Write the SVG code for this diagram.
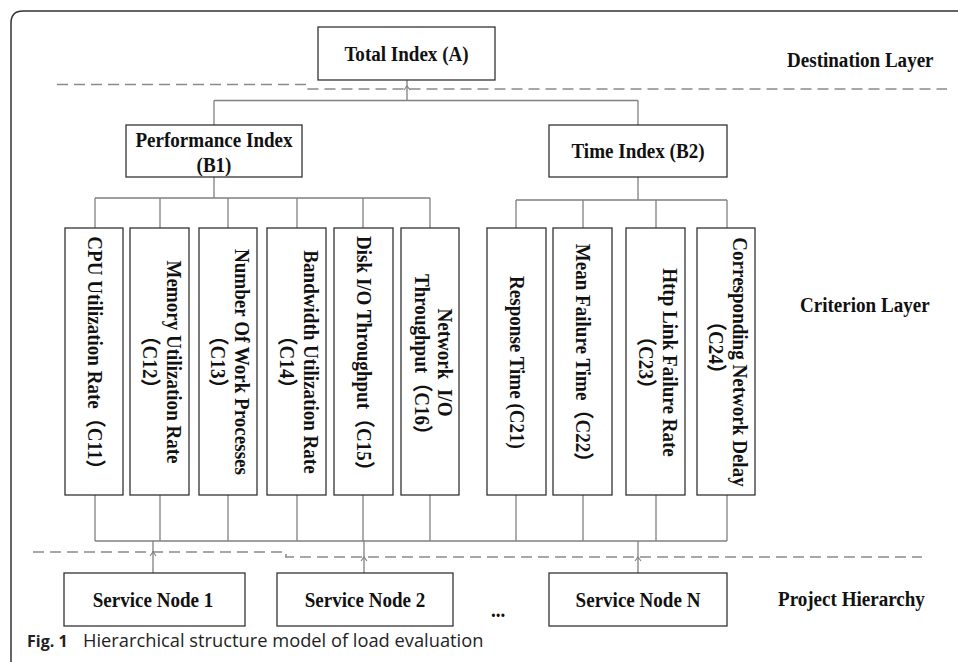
<svg xmlns="http://www.w3.org/2000/svg" width="958" height="662" viewBox="0 0 958 662">
<style>
.box{fill:#fff;stroke:#333;stroke-width:1.3}
.t{font-family:"Liberation Serif","Noto Sans CJK SC",serif;font-weight:bold;font-size:20.5px;fill:#111}
.m{text-anchor:middle}
.con{fill:none;stroke:#808080;stroke-width:1.3}
.dash{fill:none;stroke:#8a8a8a;stroke-width:1.6;stroke-dasharray:11 6}
.arr{fill:none;stroke:#808080;stroke-width:1.1}
.cap{font-family:"Open Sans","Noto Sans",sans-serif;font-size:18.3px;fill:#222}
</style>
<path d="M11 662 V23 Q11 11 23 11 H958" fill="none" stroke="#333" stroke-width="1.5"/>
<g id="layers">
<path class="dash" d="M57 84.5 H308 V89 H947"/>
<path class="dash" d="M33 552 H286 V557 H922"/>
<text class="t" transform="translate(787,67) scale(0.93,1)">Destination Layer</text>
<text class="t" transform="translate(800,312) scale(0.93,1)">Criterion Layer</text>
<text class="t" transform="translate(778,606) scale(0.93,1)">Project Hierarchy</text>
<text class="t" transform="translate(491,617) scale(0.93,1)">...</text>
</g>
<g id="connectors">
<path class="con" d="M407 80 V100.5 M214 100.5 H638 M214 100.5 V125 M638 100.5 V125"/>
<path class="con" d="M214 177 V198 M95 198 H430 M95 198 V228 M160 198 V228 M228 198 V228 M297 198 V228 M363 198 V228 M430 198 V228"/>
<path class="con" d="M638 177 V200 M516 200 H727 M516 200 V228 M583 200 V228 M656 200 V228 M727 200 V228"/>
<path class="con" d="M95 495 V541 M160 495 V541 M228 495 V541 M297 495 V541 M363 495 V541 M430 495 V541 M516 495 V541 M583 495 V541 M656 495 V541 M727 495 V541 M95 541 H727"/>
<path class="con" d="M153 541 V573 M364 541 V573 M638 541 V573"/>
<path class="arr" d="M404 90 L407 86 L410 90"/>
<path class="arr" d="M150 556 L153 552 L156 556"/>
<path class="arr" d="M361 561 L364 557 L367 561"/>
<path class="arr" d="M635 561 L638 557 L641 561"/>
</g>
<g id="A">
<rect class="box" x="318" y="27" width="177" height="53"/>
<text class="t m" transform="translate(406.5,61) scale(0.93,1)">Total Index (A)</text>
</g>
<g id="B1">
<rect class="box" x="126" y="125" width="176" height="52"/>
<text class="t m" transform="translate(214,147) scale(0.93,1)">Performance Index</text>
<text class="t m" transform="translate(214,172) scale(0.93,1)">(B1)</text>
</g>
<g id="B2">
<rect class="box" x="549" y="125" width="178" height="52"/>
<text class="t m" transform="translate(638,158) scale(0.93,1)">Time Index (B2)</text>
</g>
<g id="C11">
<rect class="box" x="65" y="228" width="58" height="267"/>
<text class="t m" transform="translate(88,357.5) rotate(90) scale(0.93,1)">CPU Utilization Rate（C11）</text>
</g>
<g id="C12">
<rect class="box" x="130" y="228" width="59" height="267"/>
<text class="t m" transform="translate(166.5,362) rotate(90) scale(0.93,1)">Memory Utilization Rate</text>
<text class="t m" transform="translate(142.5,362) rotate(90) scale(0.93,1)">（C12）</text>
</g>
<g id="C13">
<rect class="box" x="199" y="228" width="58" height="267"/>
<text class="t m" transform="translate(235,362) rotate(90) scale(0.93,1)">Number Of Work Processes</text>
<text class="t m" transform="translate(211,362) rotate(90) scale(0.93,1)">（C13）</text>
</g>
<g id="C14">
<rect class="box" x="267" y="228" width="59" height="267"/>
<text class="t m" transform="translate(303.5,362) rotate(90) scale(0.93,1)">Bandwidth Utilization Rate</text>
<text class="t m" transform="translate(279.5,362) rotate(90) scale(0.93,1)">（C14）</text>
</g>
<g id="C15">
<rect class="box" x="334" y="228" width="59" height="267"/>
<text class="t m" transform="translate(357,358) rotate(90) scale(0.93,1)">Disk I/O Throughput（C15）</text>
</g>
<g id="C16">
<rect class="box" x="401" y="228" width="58" height="267"/>
<text class="t m" style="white-space:pre" transform="translate(438,362.5) rotate(90) scale(0.93,1)">Network  I/O</text>
<text class="t m" transform="translate(415,359) rotate(90) scale(0.93,1)">Throughput（C16）</text>
</g>
<g id="C21">
<rect class="box" x="487" y="228" width="59" height="267"/>
<text class="t m" transform="translate(510,362.5) rotate(90) scale(0.93,1)">Response Time (C21)</text>
</g>
<g id="C22">
<rect class="box" x="553" y="228" width="59" height="267"/>
<text class="t m" transform="translate(576,357.5) rotate(90) scale(0.93,1)">Mean Failure Time（C22）</text>
</g>
<g id="C23">
<rect class="box" x="626" y="228" width="59" height="267"/>
<text class="t m" transform="translate(662.5,362.5) rotate(90) scale(0.93,1)">Http Link Failure Rate</text>
<text class="t m" transform="translate(638.5,362.5) rotate(90) scale(0.93,1)">（C23）</text>
</g>
<g id="C24">
<rect class="box" x="697" y="228" width="58" height="267"/>
<text class="t m" transform="translate(733,362) rotate(90) scale(0.93,1)">Corresponding Network Delay</text>
<text class="t m" transform="translate(709,347.5) rotate(90) scale(0.93,1)">（C24）</text>
</g>
<g id="SN1">
<rect class="box" x="64" y="573" width="181" height="53"/>
<text class="t m" transform="translate(153,606.5) scale(0.93,1)">Service Node 1</text>
</g>
<g id="SN2">
<rect class="box" x="277" y="573" width="176" height="53"/>
<text class="t m" transform="translate(365,606.5) scale(0.93,1)">Service Node 2</text>
</g>
<g id="SNN">
<rect class="box" x="549" y="573" width="178" height="53"/>
<text class="t m" transform="translate(638,606.5) scale(0.93,1)">Service Node N</text>
</g>
<g id="caption">
<text class="cap" x="27" y="647"><tspan font-weight="bold" font-size="16px">Fig. 1</tspan><tspan x="83">Hierarchical structure model of load evaluation</tspan></text>
</g>
</svg>
